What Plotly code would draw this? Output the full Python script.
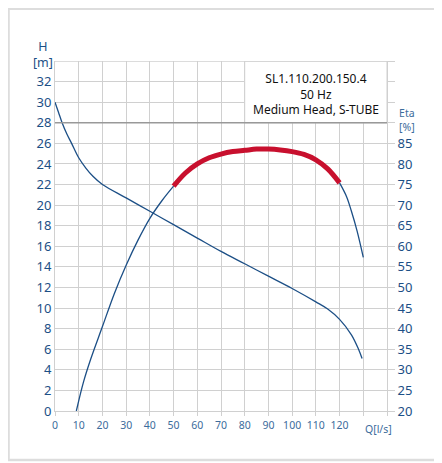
import plotly.graph_objects as go

# Pump curve data
q_head = [0, 1.5, 3, 5, 7, 10, 13, 16, 20, 30, 40, 50, 60, 70, 80, 90, 100, 110, 115, 120, 125, 128, 129.5]
head = [30, 29, 28, 26.9, 26, 24.6, 23.6, 22.8, 22.0, 20.7, 19.4, 18.1, 16.8, 15.5, 14.3, 13.1, 11.9, 10.6, 9.9, 8.9, 7.4, 6.0, 5.1]

q_eta_lo = [9, 12, 15, 20, 25, 30, 35, 40, 45, 50]
eta_lo = [20, 27, 32.5, 40.5, 48.5, 55.4, 61.5, 66.8, 71, 74.6]
q_eta_bep = [50, 55, 60, 65, 70, 75, 80, 85, 90, 95, 100, 105, 110, 115, 120]
eta_bep = [74.6, 77.8, 80, 81.5, 82.4, 83, 83.3, 83.6, 83.6, 83.4, 83.0, 82.3, 81.0, 78.8, 75.4]
q_eta_hi = [120, 123, 125, 127.4, 130]
eta_hi = [75.4, 72, 68.5, 63.7, 57.3]

x_ticks = list(range(0, 130, 10))
h_ticks = list(range(0, 34, 2))
eta_ticks = list(range(20, 90, 5))

BLUE = "#1c4f86"
LIGHT_BLUE = "#3c6c9c"
RED = "#c8102e"
GRID = "#d0d0d0"
FONT = "Noto Sans"

fig = go.Figure()
fig.add_trace(go.Scatter(x=q_head, y=head, mode="lines", line=dict(color=BLUE, width=1.3, shape="spline"),
                         showlegend=False))
fig.add_trace(go.Scatter(x=q_eta_lo, y=eta_lo, yaxis="y2", mode="lines",
                         line=dict(color=BLUE, width=1.3, shape="spline"), showlegend=False))
fig.add_trace(go.Scatter(x=q_eta_hi, y=eta_hi, yaxis="y2", mode="lines",
                         line=dict(color=BLUE, width=1.3, shape="spline"), showlegend=False))
fig.add_trace(go.Scatter(x=q_eta_bep, y=eta_bep, yaxis="y2", mode="lines",
                         line=dict(color=RED, width=5, shape="spline"), showlegend=False))

# the page body adds an 8px offset, so the figure is shrunk by that much
fig.update_layout(
    width=434, height=455,
    margin=dict(l=47, r=55, t=53, b=52, autoexpand=False),
    paper_bgcolor="white", plot_bgcolor="white",
    font=dict(family=FONT, color=BLUE),
    xaxis=dict(range=[0, 140], tickvals=x_ticks + [130, 140], ticktext=[str(v) for v in x_ticks] + ["", ""],
               showgrid=True, gridcolor=GRID, gridwidth=1, zeroline=False, automargin=False,
               ticks="outside", ticklen=4, tickcolor=GRID,
               tickfont=dict(size=10.5, color=LIGHT_BLUE),
               showline=True, linecolor=GRID, linewidth=1),
    yaxis=dict(range=[0, 34], tickvals=h_ticks, automargin=False,
               showgrid=True, gridcolor=GRID, gridwidth=1, zeroline=False,
               ticks="", tickfont=dict(size=13, color=BLUE),
               showline=True, linecolor=GRID, linewidth=1),
    yaxis2=dict(range=[20, 105], overlaying="y", side="right", automargin=False,
                tickvals=list(range(20, 110, 5)),
                ticktext=[str(v) for v in eta_ticks] + [""] * 4,
                showgrid=False, zeroline=False, ticks="outside", ticklen=7, tickcolor=GRID,
                tickfont=dict(size=13, color=BLUE), showline=True, linecolor=GRID, linewidth=1),
    shapes=[
        dict(type="rect", xref="x", yref="y", x0=80, x1=140, y0=28, y1=34,
             fillcolor="white", line=dict(color=GRID, width=1), layer="above"),
        dict(type="line", xref="x", yref="y", x0=0, x1=140, y0=28, y1=28,
             line=dict(color="#999999", width=1.3), layer="above"),
        dict(type="line", xref="x", yref="y", x0=0, x1=140, y0=34, y1=34,
             line=dict(color=GRID, width=1.5), layer="above"),
        dict(type="rect", xref="paper", yref="paper", x0=-0.14, x1=1.2, y0=-0.14, y1=1.149,
             line=dict(color="#dddddd", width=2.5), fillcolor="rgba(0,0,0,0)", layer="below"),
    ],
    annotations=[
        dict(x=110, y=33.3, xref="x", yref="y", text="SL1.110.200.150.4<br>50 Hz<br>Medium Head, S-TUBE",
             showarrow=False, yanchor="top", font=dict(family=FONT, size=12, color="#111111"),
             align="center"),
        dict(x=-0.037, y=0.966, xref="paper", yref="paper", text="H<br>[m]", showarrow=False,
             yanchor="bottom", xanchor="center", font=dict(size=12.5, color=BLUE), align="center"),
        dict(x=1.06, y=0.787, xref="paper", yref="paper", text="Eta<br>[%]", showarrow=False,
             yanchor="bottom", xanchor="center", font=dict(size=10.5, color=LIGHT_BLUE), align="center"),
        dict(x=1.02, y=-0.025, xref="paper", yref="paper", text="Q[l/s]", showarrow=False,
             yanchor="top", xanchor="right", font=dict(size=10.5, color=LIGHT_BLUE)),
    ],
)

fig.write_html("out.html")
